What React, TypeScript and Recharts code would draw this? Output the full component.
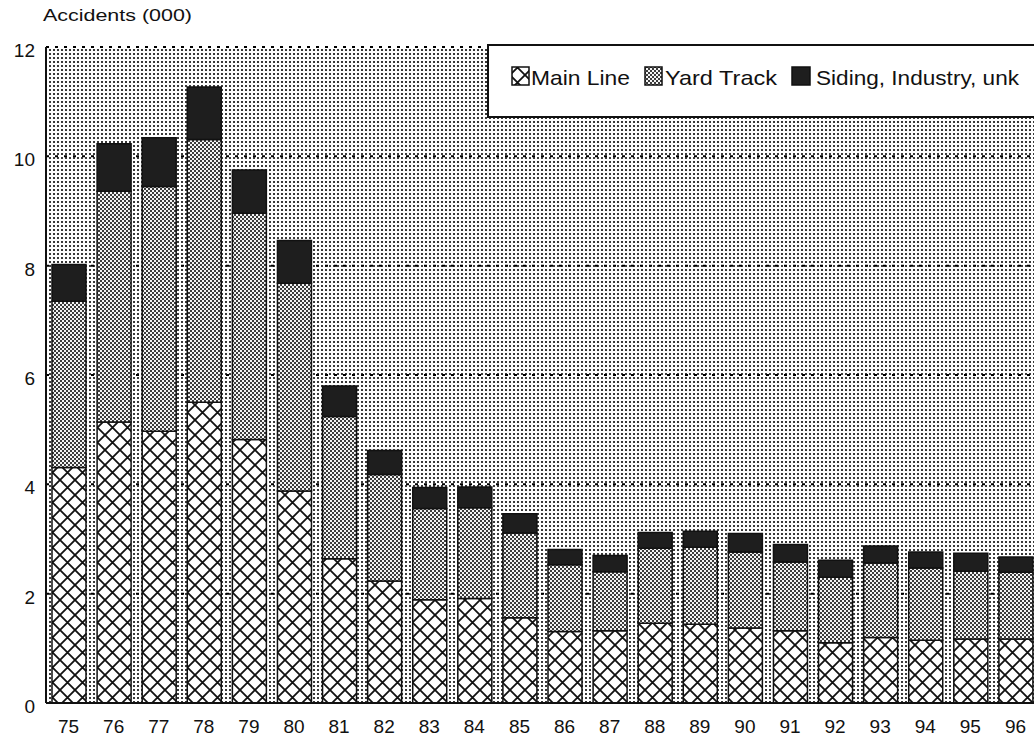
import React from 'react';
import { BarChart, Bar, XAxis, YAxis, CartesianGrid } from 'recharts';

const years = ['75', '76', '77', '78', '79', '80', '81', '82', '83', '84', '85', '86', '87', '88', '89', '90', '91', '92', '93', '94', '95', '96'];
const mainLine = [4.31, 5.14, 4.97, 5.5, 4.82, 3.88, 2.64, 2.23, 1.89, 1.91, 1.56, 1.31, 1.32, 1.46, 1.44, 1.37, 1.32, 1.1, 1.2, 1.15, 1.17, 1.17];
const yardTrack = [3.04, 4.22, 4.48, 4.81, 4.14, 3.8, 2.6, 1.95, 1.67, 1.66, 1.55, 1.22, 1.08, 1.37, 1.41, 1.39, 1.26, 1.2, 1.36, 1.32, 1.24, 1.22];
const siding = [0.67, 0.87, 0.89, 0.96, 0.79, 0.78, 0.56, 0.44, 0.38, 0.38, 0.35, 0.28, 0.3, 0.29, 0.29, 0.34, 0.32, 0.31, 0.31, 0.29, 0.33, 0.28];
const yTicks = [0, 2, 4, 6, 8, 10, 12];
const seriesNames = ['Main Line', 'Yard Track', 'Siding, Industry, unk'];
const titleText = 'Accidents (000)';

const data = years.map((y, i) => ({ year: y, main: mainLine[i], yard: yardTrack[i], siding: siding[i] }));

const FONT = '"Liberation Sans", Arial, sans-serif';

const Patterns = ({ p }: { p: string }) => (
  <defs>
    <pattern id={p + 'bg'} patternUnits="userSpaceOnUse" width="4" height="4">
      <rect x="0" y="0" width="4" height="4" fill="#ffffff" />
      <rect x="1" y="1" width="2" height="2" fill="#3a3a3a" />
    </pattern>
    <pattern id={p + 'yard'} patternUnits="userSpaceOnUse" width="4" height="4">
      <rect x="0" y="0" width="4" height="4" fill="#f4f4f4" />
      <rect x="0" y="0" width="2" height="2" fill="#3c3c3c" />
      <rect x="2" y="2" width="2" height="2" fill="#3c3c3c" />
    </pattern>
    <pattern id={p + 'hatch'} patternUnits="userSpaceOnUse" width="15" height="15">
      <rect x="0" y="0" width="15" height="15" fill="#ffffff" />
      <path d="M0,0 L15,15 M15,0 L0,15 M-2,13 L2,17 M13,-2 L17,2 M-2,2 L2,-2 M13,17 L17,13" stroke="#111" strokeWidth="1.8" fill="none" />
    </pattern>
  </defs>
);

const YTick = (props: any) => {
  const { x, y, payload } = props;
  return (
    <text x={x} y={y + 3} dy="0.36em" textAnchor="end" fontFamily={FONT} fontSize={19} fill="#111">
      {payload.value}
    </text>
  );
};

const XTick = (props: any) => {
  const { x, y, payload } = props;
  return (
    <text x={x} y={y} dy="0.71em" textAnchor="middle" fontFamily={FONT} fontSize={19} fill="#111">
      {payload.value}
    </text>
  );
};

export default function App() {
  return (
    <div style={{ position: 'absolute', left: 0, top: 0, width: 1034, height: 742, overflow: 'hidden', background: '#fff' }}>
      <BarChart width={1038} height={742} data={data} margin={{ top: 47, right: 0, bottom: 0, left: 0 }} barSize={34}>
        <Patterns p="c-" />
        <CartesianGrid
          vertical={false}
          fill="url(#c-bg)"
          stroke="#000"
          strokeWidth={2}
          strokeDasharray="3 6"
        />
        <XAxis
          dataKey="year"
          height={39}
          tickLine={false}
          tickSize={0}
          tickMargin={17}
          axisLine={{ stroke: '#111', strokeWidth: 2 }}
          tick={<XTick />}
          interval={0}
        />
        <XAxis
          xAxisId="top"
          dataKey="year"
          orientation="top"
          height={0}
          tick={false}
          tickLine={false}
          axisLine={{ stroke: '#111', strokeWidth: 2 }}
        />
        <YAxis
          width={46}
          domain={[0, 12]}
          ticks={yTicks}
          tickLine={false}
          tickSize={0}
          tickMargin={11}
          axisLine={{ stroke: '#111', strokeWidth: 2 }}
          tick={<YTick />}
          interval={0}
        />
        <Bar dataKey="main" name={seriesNames[0]} stackId="a" fill="url(#c-hatch)" stroke="#111" strokeWidth={1.5} isAnimationActive={false} />
        <Bar dataKey="yard" name={seriesNames[1]} stackId="a" fill="url(#c-yard)" stroke="#111" strokeWidth={1.5} isAnimationActive={false} />
        <Bar dataKey="siding" name={seriesNames[2]} stackId="a" fill="#1e1e1e" stroke="#111" strokeWidth={1.5} isAnimationActive={false} />
      </BarChart>
      <svg width={1034} height={742} style={{ position: 'absolute', left: 0, top: 0, pointerEvents: 'none' }}>
        <Patterns p="l-" />
        <text x={43} y={21} fontFamily={FONT} fontSize={17} fill="#111" textLength={149} lengthAdjust="spacingAndGlyphs">
          {titleText}
        </text>
        <rect x={488} y={45} width={600} height={72} fill="#fff" stroke="#111" strokeWidth={2} />
        <rect x={512} y={67} width={17} height={18} fill="url(#l-hatch)" stroke="#111" strokeWidth={1.5} />
        <text x={531} y={85} fontFamily={FONT} fontSize={21} fill="#111" textLength={99} lengthAdjust="spacingAndGlyphs">
          {seriesNames[0]}
        </text>
        <rect x={645} y={67} width={17} height={18} fill="url(#l-yard)" stroke="#111" strokeWidth={1.5} />
        <text x={665} y={85} fontFamily={FONT} fontSize={21} fill="#111" textLength={112} lengthAdjust="spacingAndGlyphs">
          {seriesNames[1]}
        </text>
        <rect x={792} y={67} width={18} height={18} fill="#1e1e1e" stroke="#111" strokeWidth={1.5} />
        <text x={816} y={85} fontFamily={FONT} fontSize={21} fill="#111" textLength={203} lengthAdjust="spacingAndGlyphs">
          {seriesNames[2]}
        </text>
      </svg>
    </div>
  );
}
